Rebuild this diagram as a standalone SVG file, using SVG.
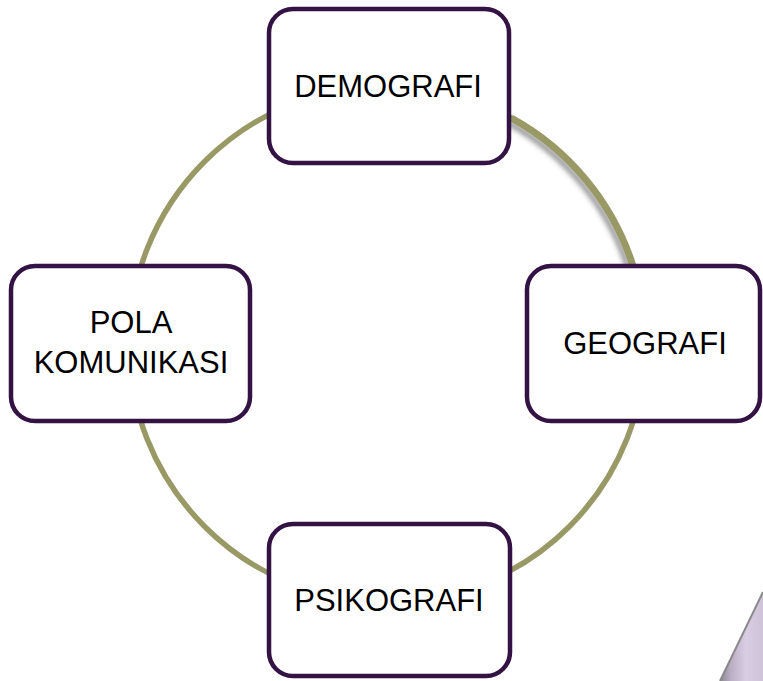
<svg xmlns="http://www.w3.org/2000/svg" width="763" height="681" viewBox="0 0 763 681">
  <defs>
    <filter id="sh" x="-20%" y="-20%" width="140%" height="140%">
      <feGaussianBlur stdDeviation="2.5"/>
    </filter>
    <linearGradient id="lav" x1="0" y1="0" x2="1" y2="0">
      <stop offset="0" stop-color="#8e8a94"/>
      <stop offset="0.25" stop-color="#b9aec4"/>
      <stop offset="0.6" stop-color="#d9cde3"/>
      <stop offset="1" stop-color="#cfc3da"/>
    </linearGradient>
    <style>
      .node rect { fill: #ffffff; stroke: #321343; stroke-width: 4.5; }
      .node text { font-family: "Liberation Sans", Arial, sans-serif; font-size: 31px; fill: #000000; text-anchor: middle; }
      .ring { fill: none; stroke: #999966; stroke-width: 5.5; }
    </style>
  </defs>

  <polygon points="720,681 763,592 763,681" fill="url(#lav)"/>
  <line x1="720" y1="681" x2="763" y2="592" stroke="#8a8a8a" stroke-width="2"/>

  <g id="connectors">
    <path d="M 511.3 118 A 258 258 0 0 1 632.7 265" fill="none" stroke="#555555" stroke-opacity="0.6" stroke-width="6" filter="url(#sh)" transform="translate(-4,4)"/>
    <circle class="ring" cx="387" cy="344" r="258"/>
    <path d="M 511.3 118 A 258 258 0 0 1 632.7 265" fill="none" stroke="#999966" stroke-width="7"/>
  </g>

  <g id="node-demografi" class="node">
    <rect x="269" y="9" width="240" height="154" rx="24"/>
    <text x="388" y="97">DEMOGRAFI</text>
  </g>
  <g id="node-pola" class="node">
    <rect x="11" y="266" width="239" height="155" rx="24"/>
    <text x="131" y="333">POLA</text>
    <text x="131" y="373">KOMUNIKASI</text>
  </g>
  <g id="node-geografi" class="node">
    <rect x="527" y="266" width="233" height="155" rx="24"/>
    <text x="645" y="354">GEOGRAFI</text>
  </g>
  <g id="node-psikografi" class="node">
    <rect x="269" y="524" width="241" height="152" rx="24"/>
    <text x="389" y="611">PSIKOGRAFI</text>
  </g>
</svg>
